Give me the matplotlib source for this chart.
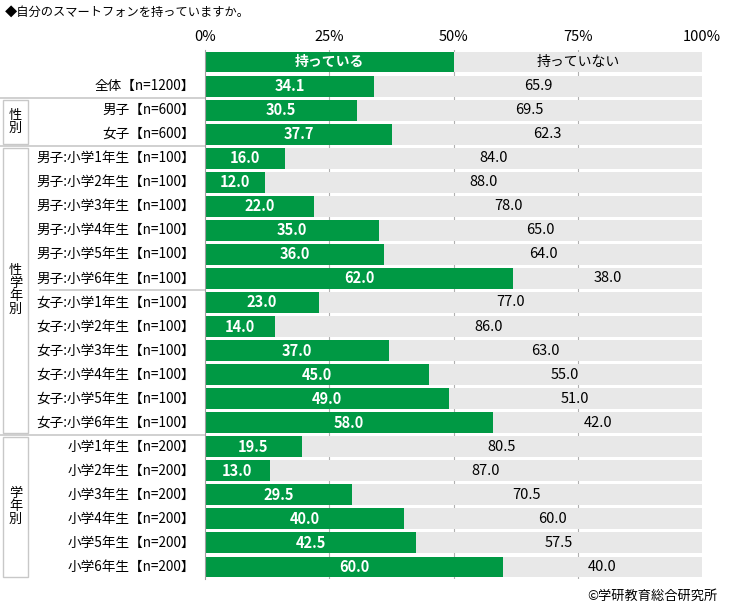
import matplotlib
matplotlib.use("Agg")
import matplotlib.pyplot as plt
from matplotlib.patches import Rectangle
from matplotlib.transforms import blended_transform_factory

plt.rcParams['font.family'] = ['Noto Sans CJK JP', 'DejaVu Sans']

# data
categories = ["全体【n=1200】", "男子【n=600】", "女子【n=600】",
              "男子:小学1年生【n=100】", "男子:小学2年生【n=100】", "男子:小学3年生【n=100】",
              "男子:小学4年生【n=100】", "男子:小学5年生【n=100】", "男子:小学6年生【n=100】",
              "女子:小学1年生【n=100】", "女子:小学2年生【n=100】", "女子:小学3年生【n=100】",
              "女子:小学4年生【n=100】", "女子:小学5年生【n=100】", "女子:小学6年生【n=100】",
              "小学1年生【n=200】", "小学2年生【n=200】", "小学3年生【n=200】",
              "小学4年生【n=200】", "小学5年生【n=200】", "小学6年生【n=200】"]
have = [34.1, 30.5, 37.7, 16.0, 12.0, 22.0, 35.0, 36.0, 62.0, 23.0, 14.0, 37.0,
        45.0, 49.0, 58.0, 19.5, 13.0, 29.5, 40.0, 42.5, 60.0]
have_not = [65.9, 69.5, 62.3, 84.0, 88.0, 78.0, 65.0, 64.0, 38.0, 77.0, 86.0, 63.0,
            55.0, 51.0, 42.0, 80.5, 87.0, 70.5, 60.0, 57.5, 40.0]
series = ["持っている", "持っていない"]
header_split = [50, 50]
xticks = [0, 25, 50, 75, 100]
xticklabels = ["0%", "25%", "50%", "75%", "100%"]
# group name, first row, last row (rows counted incl. header row 0)
groups = [("性\n別", 2, 3), ("性\n学\n年\n別", 4, 15), ("学\n年\n別", 16, 21)]

green = "#009944"
gray = "#e8e8e8"
line_c = "#c8c8c8"

fig = plt.figure(figsize=(7.3, 6.06), dpi=100)
W, H = 730, 606
ax = fig.add_axes([205 / W, 1 - 579 / H, (702 - 205) / W, (579 - 50) / H])

rows = list(range(1, len(categories) + 1))
bh = 0.87

# header row with series names
ax.barh(0, header_split[0], height=bh, color=green, zorder=2)
ax.barh(0, header_split[1], left=header_split[0], height=bh, color=gray, zorder=2)
ax.text(header_split[0] / 2, 0, series[0], color="white", fontweight="bold",
        ha="center", va="center", fontsize=10, zorder=3)
ax.text(header_split[0] + header_split[1] / 2, 0, series[1], color="black",
        ha="center", va="center", fontsize=10, zorder=3)

ax.barh(rows, have, height=bh, color=green, zorder=2)
ax.barh(rows, have_not, left=have, height=bh, color=gray, zorder=2)
for r, a, b in zip(rows, have, have_not):
    ax.text(a / 2, r, f"{a:.1f}", color="white", fontweight="bold",
            ha="center", va="center", fontsize=10.5, zorder=3)
    ax.text(a + b / 2, r, f"{b:.1f}", color="black",
            ha="center", va="center", fontsize=10.5, zorder=3)

ax.set_xlim(0, 100)
ax.set_ylim(len(categories) + 0.5, -0.5)
ax.xaxis.tick_top()
ax.set_xticks(xticks)
ax.set_xticklabels(xticklabels, fontsize=10.5)
ax.tick_params(axis="x", length=0, pad=4)
ax.set_yticks([])
for v in xticks[1:-1]:
    ax.axvline(v, color="#b0b0b0", lw=0.8, zorder=1)
for s in ["top", "right", "bottom"]:
    ax.spines[s].set_visible(False)
ax.spines["left"].set_color("#a0a0a0")
ax.spines["left"].set_linewidth(0.8)

# left label panel
tr = blended_transform_factory(fig.transFigure, ax.transData)
for r, c in zip(rows, categories):
    ax.text(195 / W, r, c, transform=tr, ha="right", va="center", fontsize=9.8)

for y, x0 in [(1.5, 0), (3.5, 0), (9.5, 40 / W), (15.5, 0)]:
    ax.plot([x0, 205 / W], [y, y], transform=tr, color=line_c, lw=1.2, clip_on=False)

for name, r0, r1 in groups:
    ax.add_patch(Rectangle((3 / W, r0 - 0.42), 25 / W, (r1 - r0) + 0.84, transform=tr,
                           fill=False, edgecolor=line_c, lw=1, clip_on=False))
    ax.text(15.5 / W, (r0 + r1) / 2, name, transform=tr, ha="center", va="center",
            fontsize=9.5, linespacing=1.0)

fig.text(5 / W, 1 - 12 / H, "◆自分のスマートフォンを持っていますか。", ha="left", va="center", fontsize=8.8)
fig.text(718 / W, 1 - 596 / H, "©学研教育総合研究所", ha="right", va="center", fontsize=9.5)

fig.savefig("out.png", dpi=100)
